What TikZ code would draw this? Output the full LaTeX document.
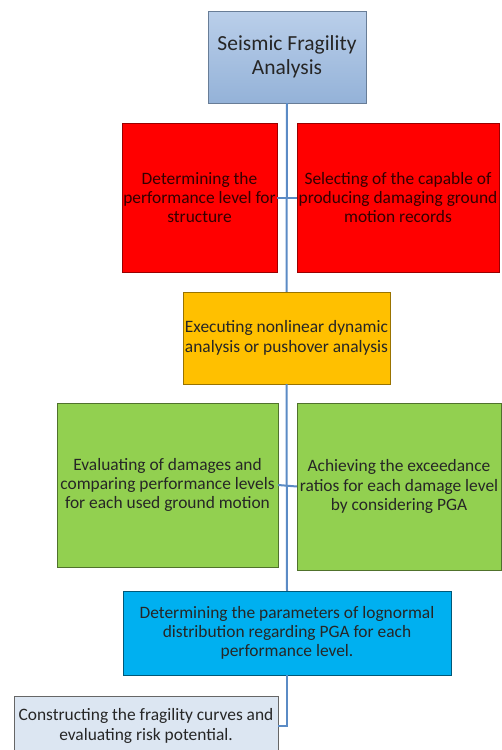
\documentclass[tikz,border=0pt]{standalone}
\usepackage{fontspec}
\setmainfont{Carlito}
\usetikzlibrary{positioning}
\definecolor{topA}{HTML}{BACFEA}
\definecolor{topB}{HTML}{94B2D8}
\definecolor{linkc}{HTML}{5B8BC5}
\definecolor{redc}{HTML}{FF0000}
\definecolor{orangec}{HTML}{FFC000}
\definecolor{greenc}{HTML}{92D050}
\definecolor{bluec}{HTML}{00B0F0}
\definecolor{palec}{HTML}{DCE6F2}

\begin{document}
\begin{tikzpicture}[x=1pt,y=-1pt,line join=miter,
box/.style={draw, inner sep=1pt, align=center, font=\fontsize{17.4}{19.3}\selectfont, text=black!85},
link/.style={draw=linkc, line width=2pt}]
\useasboundingbox (0,0) rectangle (502,750);
\node[box, draw=topB!70!black, top color=topA, bottom color=topB, minimum width=158pt, minimum height=92pt, font=\fontsize{21.5}{23.5}\selectfont] (sfa) at (287,57) {Seismic Fragility\\Analysis};
\node[box, fill=redc, draw=red!60!black, minimum width=155pt, minimum height=149pt, text=red!20!black] (perf) at (199.5,197.5) {Determining the\\performance level for\\structure};
\node[box, fill=redc, draw=red!60!black, minimum width=202pt, minimum height=149pt, text=red!20!black] (rec) at (398,197.5) {Selecting of the capable of\\producing damaging ground\\motion records};
\node[box, fill=orangec, draw=orangec!60!black, minimum width=207pt, minimum height=92pt] (nda) at (286.5,338) {Executing nonlinear dynamic\\analysis or pushover analysis};
\node[box, fill=greenc, draw=greenc!55!black, minimum width=221pt, minimum height=164pt] (dmg) at (167.5,485) {Evaluating of damages and\\comparing performance levels\\for each used ground motion};
\node[box, fill=greenc, draw=greenc!55!black, minimum width=204pt, minimum height=167pt] (exc) at (399,486.5) {Achieving the exceedance\\ratios for each damage level\\by considering PGA};
\node[box, fill=bluec, draw=bluec!50!black, minimum width=328pt, minimum height=84pt] (logn) at (287,633) {Determining the parameters of lognormal\\distribution regarding PGA for each\\performance level.};
\node[box, fill=palec, draw=gray!80!black, minimum width=264pt, minimum height=60pt] (curv) at (146,726) {Constructing the fragility curves and\\evaluating risk potential.};
% connectors
\draw[link] (sfa.south) -- (nda.north);
\draw[link] (nda.south) -- (logn.north);
\draw[link] (logn.south) |- (curv.east);
\draw[link] (perf.east) -- (rec.west);
\draw[link] (dmg.east) -- (exc.west);
\end{tikzpicture}
\end{document}
